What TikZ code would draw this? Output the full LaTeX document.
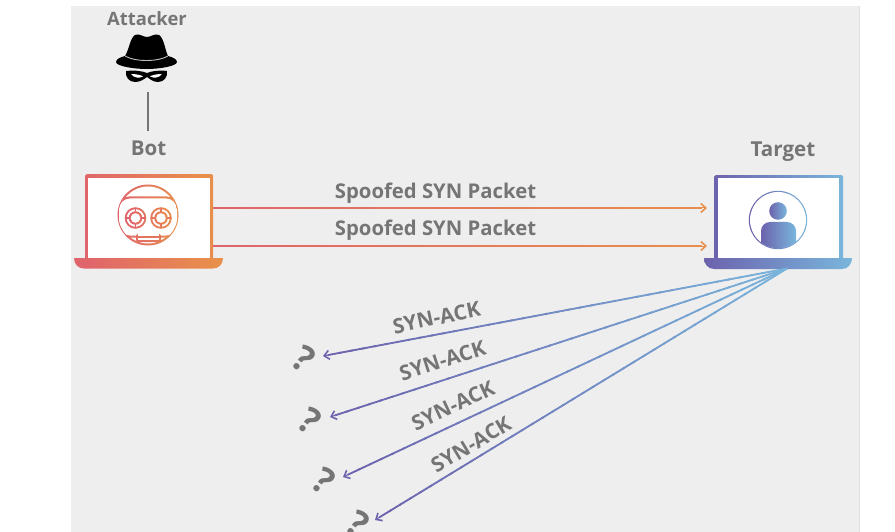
\documentclass[tikz,border=0pt]{standalone}
\usepackage{fontspec}
\setmainfont{Open Sans}
\usetikzlibrary{arrows.meta,calc}
\definecolor{panel}{HTML}{EEEEEE}
\definecolor{txt}{HTML}{757575}
\definecolor{redA}{HTML}{E0646C}
\definecolor{redB}{HTML}{E88F4C}
\definecolor{bluA}{HTML}{6C62AD}
\definecolor{bluB}{HTML}{79B6DC}
\tikzset{
  lbl/.style={font=\bfseries\fontsize{#1}{#1}\selectfont,text=txt,inner sep=0pt},
  hotframe/.style={left color=redA,right color=redB,shading angle=100,draw=none,inner sep=0pt,rounded corners=1.5pt},
  coolframe/.style={left color=bluA,right color=bluB,draw=none,inner sep=0pt,rounded corners=1.5pt},
  screenbox/.style={fill=white,draw=none,inner sep=0pt},
  tip/.style={-{Straight Barb[length=5pt,width=9pt,line width=1.6pt]},line width=1pt},
}
\newcommand{\gradline}[4]{%
  \draw[tip,#4] (#1) -- (#2);
  \foreach \ii in {0,...,39}{
    \pgfmathtruncatemacro{\pp}{100-\ii*2.5}
    \pgfmathsetmacro{\sa}{\ii/40*0.985}
    \pgfmathsetmacro{\sb}{(\ii+1.2)/40*0.985}
    \draw[line width=1.8pt,color=#3!\pp!#4] ($(#1)!\sa!(#2)$) -- ($(#1)!\sb!(#2)$);
  }
}
\begin{document}
\begin{tikzpicture}[x=1pt,y=-1pt]
\useasboundingbox (0,0) rectangle (895,532);
\fill[white] (0,0) rectangle (895,532);
\fill[panel] (71,6) rectangle (859,532);
\draw[line width=0.6pt,color=black!12] (859.3,6) -- (859.3,532);

% labels
\node[lbl=18.4] (attacker) at (147,18.5) {Attacker};
\node[lbl=20.5] (bot) at (148.5,148) {Bot};
\node[lbl=20.6] (target) at (783,152) {Target};

% hat
\fill[black] (125,56) .. controls (129,50) and (130,38) .. (135,35)
  .. controls (139,33) and (143,37) .. (147,37)
  .. controls (151,37) and (155,33) .. (159,35)
  .. controls (164,38) and (165,50) .. (168,56)
  .. controls (172,57) and (177,59) .. (177,62)
  .. controls (177,66) and (160,69) .. (147,69)
  .. controls (133,69) and (116,66) .. (116,62)
  .. controls (116,59) and (121,57) .. (125,56) -- cycle;
\draw[white!75!black,line width=0.9pt] (125,56) .. controls (135,62) and (158,62) .. (168,56);
\fill[black] (126,71) .. controls (135,70) and (142,71) .. (147,73)
  .. controls (152,71) and (159,70) .. (167,71)
  .. controls (168,77) and (164,82) .. (158,82)
  .. controls (153,82) and (150,79) .. (147,77)
  .. controls (144,79) and (141,82) .. (135,82)
  .. controls (129,82) and (125,77) .. (126,71) -- cycle;
\fill[white] (131,74) .. controls (136,74) and (141,75) .. (143,76.5) .. controls (139,78.5) and (134,78) .. (131,74) -- cycle;
\fill[white] (162,74) .. controls (157,74) and (152,75) .. (150,76.5) .. controls (154,78.5) and (159,78) .. (162,74) -- cycle;

\coordinate (hatfoot) at (148,92);
\coordinate (botfoot) at (148,131);
\draw[line width=1.5pt,color=txt] (hatfoot) -- (botfoot);

% bot laptop
\node[hotframe,minimum width=128pt,minimum height=88pt,anchor=north west] (botframe) at (85,174) {};
\node[screenbox,minimum width=122pt,minimum height=81pt,anchor=north west] (botscreen) at (88,177.5) {};
\shade[left color=redA,right color=redB,shading angle=100]
  (74,258) -- (223,258) .. controls (223,264) and (219,268.5) .. (213,268.5) -- (84,268.5) .. controls (78,268.5) and (74,264) .. (74,258) -- cycle;

% robot
\shade[left color=redA,right color=redB] (148,215) circle[radius=30.5pt];
\fill[white] (148,215) circle[radius=28.5pt];
\begin{scope}
\clip (148,215) circle[radius=29.5pt];
\shade[left color=redA,right color=redB,rounded corners=12pt] (117,196.5) -- (179,196.5) -- (179,237.5) -- (117,237.5) -- cycle;
\fill[white,rounded corners=11pt] (119,198.5) -- (177,198.5) -- (177,235.5) -- (119,235.5) -- cycle;
\end{scope}
\shade[left color=redA!80!redB,right color=redA!40!redB,rounded corners=1.5pt] (136,234) rectangle (161,242);
\fill[white] (138,233) rectangle (159,240);
\fill[redA!60!redB] (136,235.5) rectangle (161,237.5);
\foreach \ex/\ca/\cb in {135.5/redA/redA!60!redB,161/redA!50!redB/redB}{
  \shade[left color=\ca,right color=\cb] (\ex,218) circle[radius=10.8pt];
  \fill[white] (\ex,218) circle[radius=8.8pt];
  \shade[left color=\ca,right color=\cb] (\ex,218) circle[radius=6.8pt];
  \fill[white] (\ex,218) circle[radius=4.8pt];
  \fill[\ca] (\ex-9.5,217.3) rectangle (\ex-5.5,218.7);
  \fill[\ca] (\ex+5.5,217.3) rectangle (\ex+9.5,218.7);
  \fill[\ca] (\ex-.7,208.5) rectangle (\ex+.7,212.5);
  \fill[\ca] (\ex-.7,223.5) rectangle (\ex+.7,227.5);
}

% target laptop
\node[coolframe,minimum width=129pt,minimum height=88pt,anchor=north west] (tgtframe) at (714,175) {};
\node[screenbox,minimum width=121pt,minimum height=81pt,anchor=north west] (tgtscreen) at (718,178) {};
\shade[left color=bluA,right color=bluB]
  (704,258) -- (852,258) .. controls (852,264) and (848,269) .. (842,269) -- (714,269) .. controls (708,269) and (704,264) .. (704,258) -- cycle;

% person
\shade[left color=bluA,right color=bluB] (778,220) circle[radius=29.2pt];
\fill[white] (778,220) circle[radius=28pt];
\shade[left color=bluA,right color=bluB] (778,211) circle[radius=8.8pt];
\begin{scope}
\clip (778,220) circle[radius=28.2pt];
\shade[left color=bluA,right color=bluB,rounded corners=9pt] (761,222) rectangle (796,262);
\end{scope}

% connectors
\coordinate (s1) at (213,208); \coordinate (e1) at (707,208);
\coordinate (s2) at (213,246); \coordinate (e2) at (707,246);
\gradline{s1}{e1}{redA}{redB}
\gradline{s2}{e2}{redA}{redB}
\node[lbl=20.3] (p1) at (435.5,193) {Spoofed SYN Packet};
\node[lbl=20.3] (p2) at (435.5,230) {Spoofed SYN Packet};

\coordinate (o) at (787,268.5);
\coordinate (q1) at (323,356);
\coordinate (q2) at (330,417);
\coordinate (q3) at (343,477);
\coordinate (q4) at (375,520);
\gradline{o}{q1}{bluB}{bluA}
\gradline{o}{q2}{bluB}{bluA}
\gradline{o}{q3}{bluB}{bluA}
\gradline{o}{q4}{bluB}{bluA}

\node[lbl=20.8,rotate=12] (a1) at (436.5,317.5) {SYN-ACK};
\node[lbl=20.8,rotate=18] (a2) at (442.5,360.5) {SYN-ACK};
\node[lbl=20.8,rotate=25] (a3) at (453,405.5) {SYN-ACK};
\node[lbl=20.8,rotate=31] (a4) at (471,444.5) {SYN-ACK};

\node[lbl=36,rotate=-35] (m1) at (304,359) {?};
\node[lbl=36,rotate=-35] (m2) at (310,421) {?};
\node[lbl=36,rotate=-35] (m3) at (324,481) {?};
\node[lbl=36,rotate=-35] (m4) at (358,524) {?};
\end{tikzpicture}
\end{document}
